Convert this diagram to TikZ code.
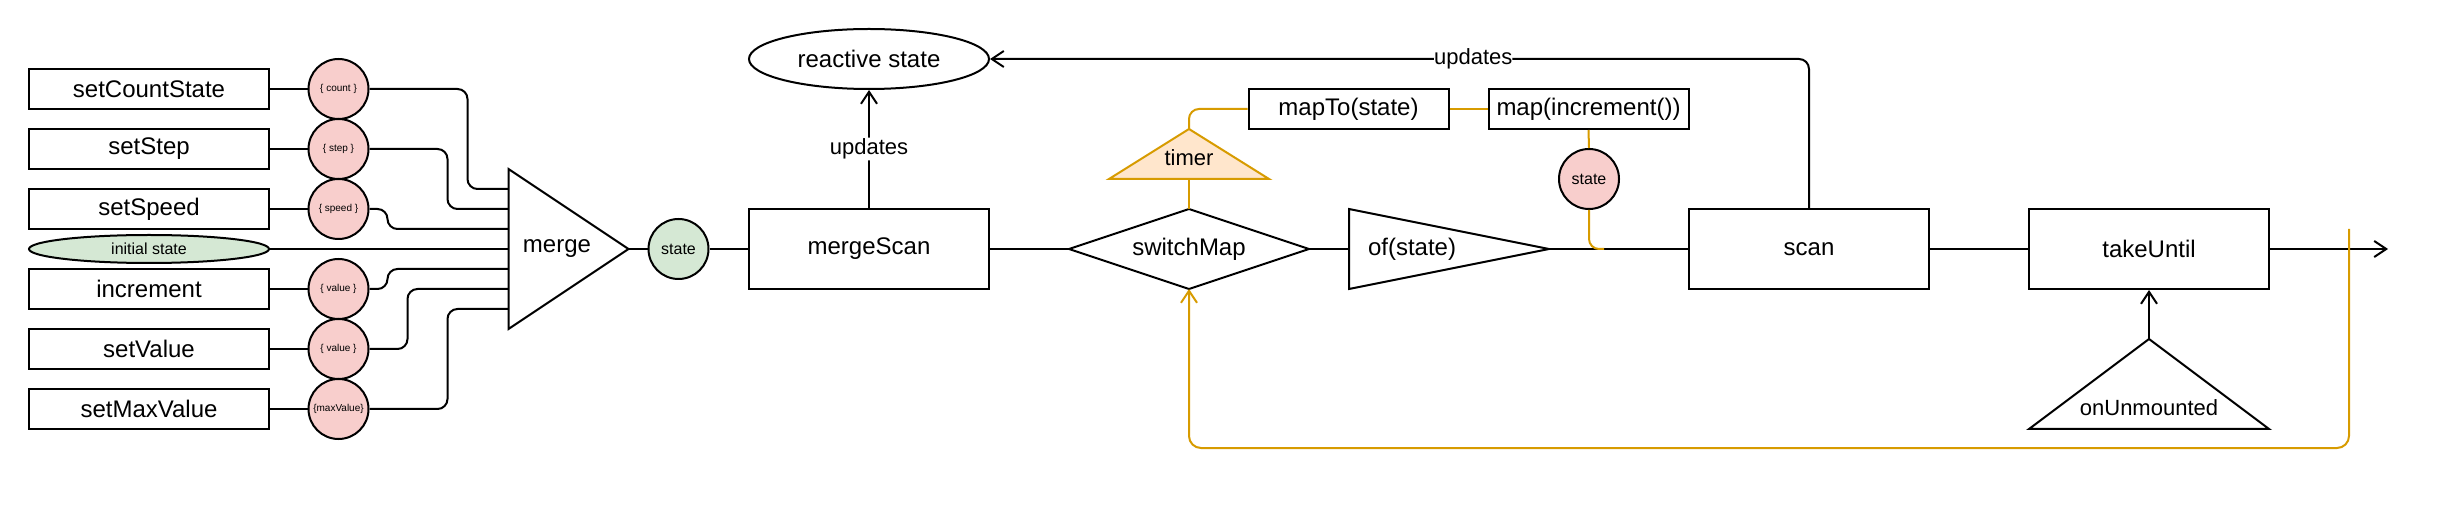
\documentclass[tikz,border=0pt]{standalone}
\usepackage{fontspec}
\setmainfont{Liberation Sans}
\usetikzlibrary{shapes.geometric,arrows.meta,calc}
\definecolor{orng}{HTML}{D79B00}
\definecolor{orngfill}{HTML}{FFE6CC}
\definecolor{pinkfill}{HTML}{F8CECC}
\definecolor{greenfill}{HTML}{D5E8D4}
\tikzset{
  every node/.style={inner sep=0pt},
  fA/.style={font=\fontsize{24}{28}\selectfont},
  fB/.style={font=\fontsize{22}{26}\selectfont},
  fC/.style={font=\fontsize{16}{19}\selectfont},
  fD/.style={font=\fontsize{10}{12}\selectfont},
  wire/.style={line width=2pt, rounded corners=10pt},
  owire/.style={line width=2pt, draw=orng, rounded corners=10pt},
  arr/.style={-{Straight Barb[length=12pt,width=16pt]}},
  srcbox/.style={draw, line width=2pt, minimum width=240pt, minimum height=40pt, fA},
  bigbox/.style={draw, line width=2pt, minimum width=240pt, minimum height=80pt, fA},
  midbox/.style={draw, line width=2pt, minimum width=200pt, minimum height=40pt, fA},
  valc/.style={circle, draw, line width=2pt, fill=pinkfill, minimum size=60pt, fD},
  framebox/.style={outer sep=0pt},
  shapeline/.style={line width=2pt, line join=miter},
  lab/.style={fB, fill=white, inner sep=1pt}
}
\begin{document}
\begin{tikzpicture}[x=1pt, y=-1pt]
\useasboundingbox (0,0) rectangle (2458,518);

% sources
\node[srcbox] (s1) at (149,89) {setCountState};
\node[srcbox] (s2) at (149,149) {setStep};
\node[srcbox] (s3) at (149,209) {setSpeed};
\node[ellipse, draw, line width=2pt, fill=greenfill, minimum width=240pt, minimum height=28pt, fC] (s4) at (149,249) {initial state};
\node[srcbox] (s5) at (149,289) {increment};
\node[srcbox] (s6) at (149,349) {setValue};
\node[srcbox] (s7) at (149,409) {setMaxValue};

\node[valc] (c1) at (338.5,89) {\{ count \}};
\node[valc] (c2) at (338.5,149) {\{ step \}};
\node[valc] (c3) at (338.5,209) {\{ speed \}};
\node[valc] (c5) at (338.5,289) {\{ value \}};
\node[valc] (c6) at (338.5,349) {\{ value \}};
\node[valc] (c7) at (338.5,409) {\{maxValue\}};

% merge triangle
\node[framebox, minimum width=120pt, minimum height=160pt] (merge) at (568.5,249) {};
\draw[shapeline] (merge.north west) -- (merge.east) -- (merge.south west) -- cycle;
\node[fA] (mergetxt) at (557,249) {merge};
\coordinate (m1) at ($(merge.west)+(0,-60)$);
\coordinate (m2) at ($(merge.west)+(0,-40)$);
\coordinate (m3) at ($(merge.west)+(0,-20)$);
\coordinate (m4) at (merge.west);
\coordinate (m5) at ($(merge.west)+(0,20)$);
\coordinate (m6) at ($(merge.west)+(0,40)$);
\coordinate (m7) at ($(merge.west)+(0,60)$);

\draw[wire] (s1) -- (c1);
\draw[wire] (s2) -- (c2);
\draw[wire] (s3) -- (c3);
\draw[wire] (s5) -- (c5);
\draw[wire] (s6) -- (c6);
\draw[wire] (s7) -- (c7);
\draw[wire] (c1.east) -| ([xshift=-41pt]m1) -- (m1);
\draw[wire] (c2.east) -| ([xshift=-61pt]m2) -- (m2);
\draw[wire] (c3.east) -| ([xshift=-121pt]m3) -- (m3);
\draw[wire] (s4.east) -- (m4);
\draw[wire] (c5.east) -| ([xshift=-121pt]m5) -- (m5);
\draw[wire] (c6.east) -| ([xshift=-101pt]m6) -- (m6);
\draw[wire] (c7.east) -| ([xshift=-61pt]m7) -- (m7);

% state, mergeScan, reactive state
\node[circle, draw, line width=2pt, fill=greenfill, minimum size=60pt, fC] (st) at (678.5,249) {state};
\node[bigbox] (ms) at (869,249) {mergeScan};
\node[ellipse, draw, line width=2pt, minimum width=240pt, minimum height=60pt, fA] (rs) at (869,59) {reactive state};
\draw[wire] (merge.east) -- (st);
\draw[wire] (st) -- (ms);
\draw[wire, arr] (ms.north) -- node[lab] {updates} (rs.south);

% switchMap diamond
\node[framebox, minimum width=240pt, minimum height=80pt, fA] (sw) at (1189,249) {switchMap};
\draw[shapeline] (sw.west) -- (sw.north) -- (sw.east) -- (sw.south) -- cycle;
\draw[wire] (ms.east) -- (sw.west);

% timer
\node[framebox, minimum width=160pt, minimum height=50pt] (tm) at (1189,154) {};
\draw[shapeline, draw=orng, fill=orngfill] (tm.north) -- (tm.south east) -- (tm.south west) -- cycle;
\node[fB] (tmtxt) at (1189,158) {timer};
\node[midbox] (mt) at (1348.5,109) {mapTo(state)};
\node[midbox] (mi) at (1588.5,109) {map(increment())};
\node[valc, fC] (sp) at (1589,179) {state};
\draw[owire] (sw.north) -- (tm.south);
\draw[owire] (tm.north) |- (mt.west);
\draw[owire] (mt.east) -- (mi.west);
\draw[owire] (mi.south) -- (sp.north);

% of(state)
\node[framebox, minimum width=200pt, minimum height=80pt] (of) at (1449,249) {};
\draw[shapeline] (of.north west) -- (of.east) -- (of.south west) -- cycle;
\node[fA] (oftxt) at (1412,249) {of(state)};
\draw[wire] (sw.east) -- (of.west);

% scan, takeUntil
\node[bigbox] (sc) at (1809,249) {scan};
\node[bigbox] (tu) at (2149,249) {takeUntil};
\draw[wire] (of.east) -- (sc.west);
\draw[wire] (sc.east) -- (tu.west);
\coordinate (out) at (2388,249);
\draw[wire, arr] (tu.east) -- (out);
\coordinate (join) at (1604,249);
\draw[owire] (sp.south) |- (join);

% onUnmounted
\node[framebox, minimum width=240pt, minimum height=90pt] (ou) at (2149,384) {};
\draw[shapeline] (ou.north) -- (ou.south east) -- (ou.south west) -- cycle;
\node[fB] (outxt) at (2149,408) {onUnmounted};
\draw[wire, arr] (ou.north) -- (tu.south);

% updates from scan
\draw[wire, arr] (sc.north) |- node[pos=0.705, fB, fill=white, inner sep=0pt] {updates} (rs.east);

% orange loop
\coordinate (ostart) at (2349,229);
\draw[owire, arr, rounded corners=12pt] (ostart) |- ([yshift=-159pt]sw.south) -- (sw.south);
\end{tikzpicture}
\end{document}
